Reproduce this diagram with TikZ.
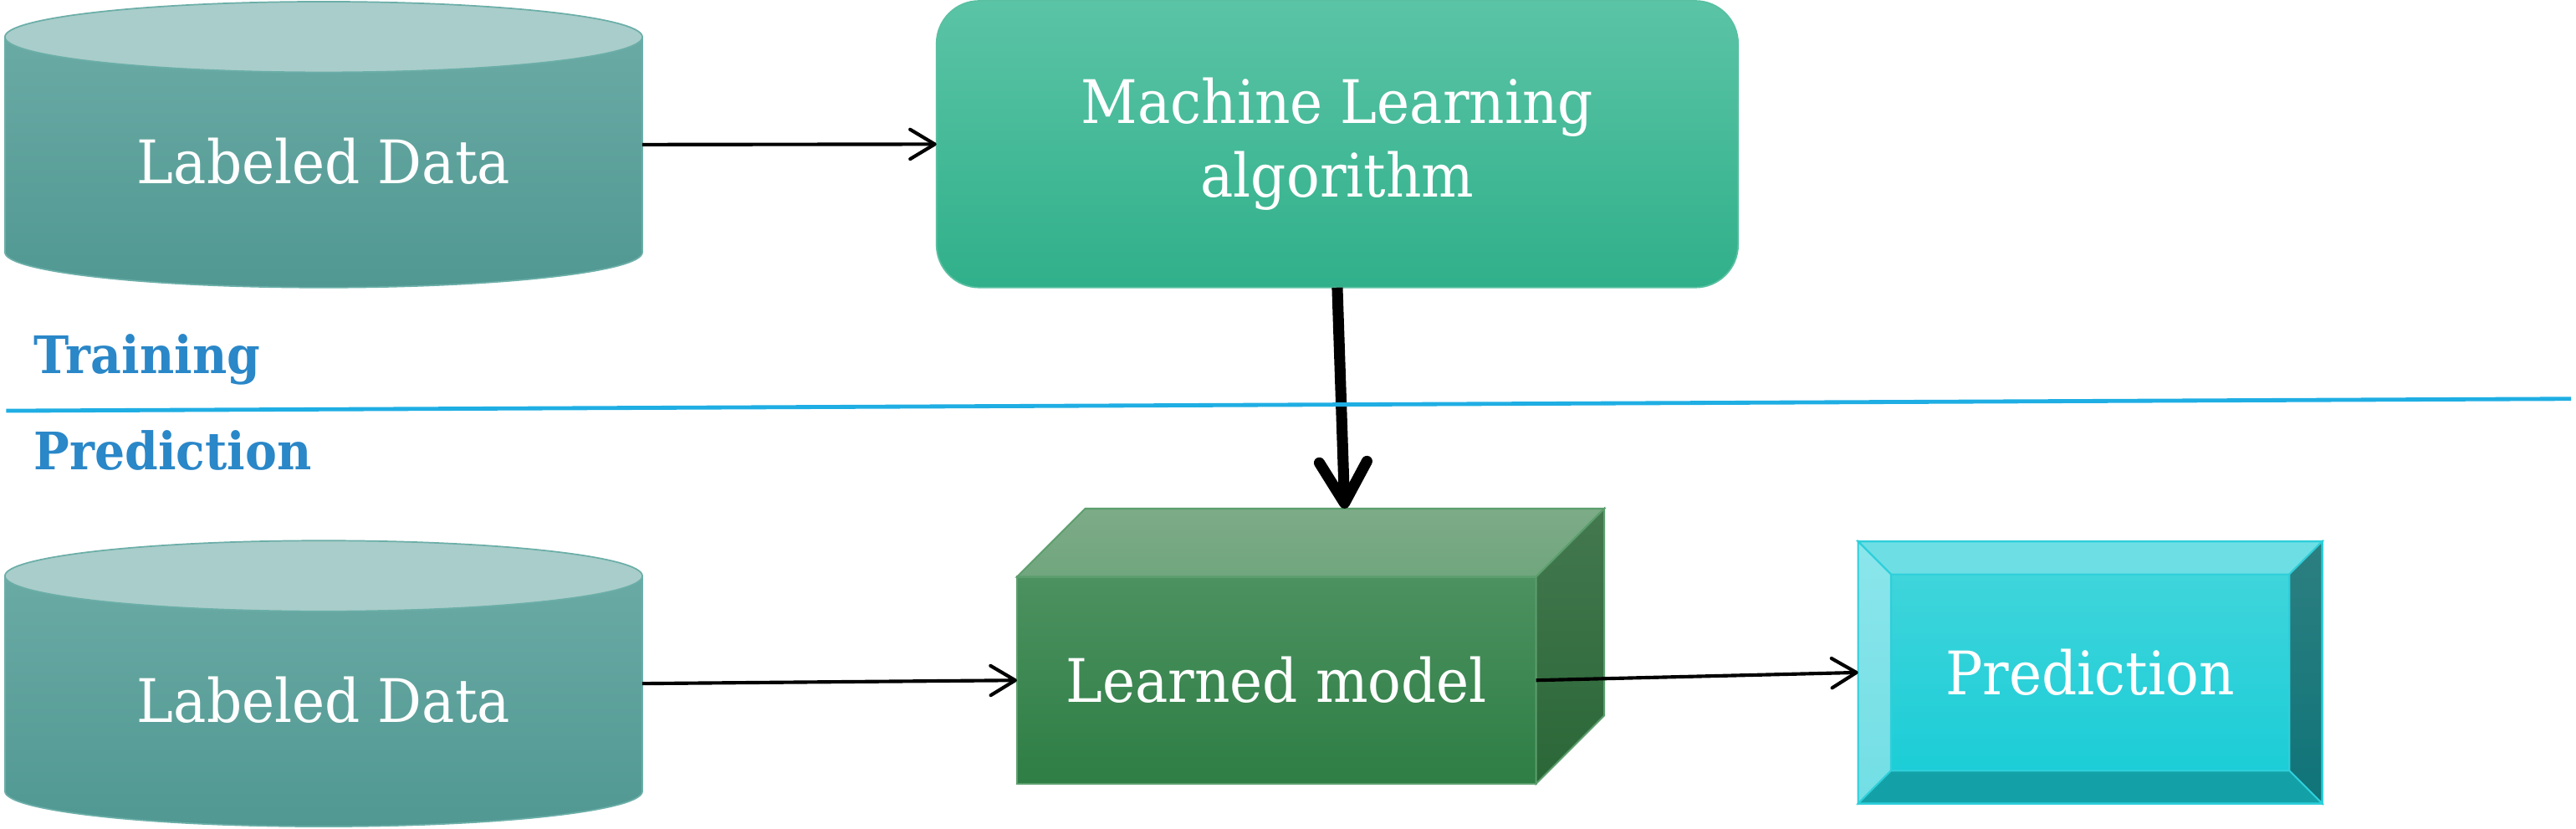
\documentclass[tikz,border=0pt]{standalone}
\usepackage{fontspec}
\setmainfont{DejaVu Serif}[FakeStretch=0.92]
\usepackage{tikz}
\usepackage{xcolor}
\usetikzlibrary{arrows.meta}

\definecolor{cylside}{HTML}{6AAAA5}
\definecolor{cylsidedark}{HTML}{519892}
\definecolor{cyltopc}{HTML}{A9CDCA}
\definecolor{cylline}{HTML}{6BAEA8}
\definecolor{mltop}{HTML}{5BC4A6}
\definecolor{mlbot}{HTML}{30B08A}
\definecolor{cubefronttop}{HTML}{4C9160}
\definecolor{cubefrontbot}{HTML}{2E7E45}
\definecolor{cubetoptop}{HTML}{7DAB88}
\definecolor{cubetopbot}{HTML}{70A67D}
\definecolor{cubesidetop}{HTML}{44784F}
\definecolor{cubesidebot}{HTML}{2A6737}
\definecolor{cubeline}{HTML}{5C9E6D}
\definecolor{predin}{HTML}{45D6DC}
\definecolor{predinbot}{HTML}{16CCD6}
\definecolor{predtopc}{HTML}{6EDEE5}
\definecolor{predlefttop}{HTML}{8BE6EB}
\definecolor{predleftbot}{HTML}{72DEE5}
\definecolor{predrighttop}{HTML}{2D7F80}
\definecolor{predrightbot}{HTML}{0F7479}
\definecolor{predbotc}{HTML}{13A1A7}
\definecolor{predline}{HTML}{2ECFDA}
\definecolor{sepblue}{HTML}{1FAEE3}
\definecolor{phaseblue}{HTML}{2A87C8}

\begin{document}
\begin{tikzpicture}[x=0.02cm, y=-0.02cm,
    boxtext/.style={text=white, font=\fontsize{20.8pt}{25.6pt}\selectfont, align=center},
    cylarea/.style={minimum width=7.76cm, minimum height=3.5cm, inner sep=0pt, outer sep=0pt},
    cylbody/.style={top color=cylside, bottom color=cylsidedark, draw=cylline, line width=0.5pt},
    cyltop/.style={fill=cyltopc, draw=cylline, line width=0.5pt},
    mlbox/.style={boxtext, top color=mltop, bottom color=mlbot, draw=mlbot!80!white, line width=0.5pt,
        rounded corners=0.52cm, minimum width=9.76cm, minimum height=3.49cm, outer sep=0pt},
    cubefront/.style={boxtext, top color=cubefronttop, bottom color=cubefrontbot, draw=cubeline, line width=0.6pt,
        minimum width=6.32cm, minimum height=2.52cm, outer sep=0pt},
    cubeface/.style={draw=cubeline, line width=0.6pt},
    predbox/.style={boxtext, top color=predin, bottom color=predinbot, draw=predline, line width=0.6pt,
        minimum width=5.65cm, minimum height=3.19cm, outer sep=0pt},
    bevelface/.style={draw=predline, line width=0.6pt},
    flow/.style={-{Straight Barb[length=0.3cm, width=0.36cm, round]}, line width=1.2pt},
    bigflow/.style={-{Straight Barb[length=0.5cm, width=0.58cm, round]}, line width=3.8pt},
    phase/.style={text=phaseblue, font=\bfseries\fontsize{17.9pt}{21pt}\selectfont, anchor=base west, inner sep=0pt},
    sepline/.style={draw=sepblue, line width=1.4pt}]
    % Define sizes
    \def\depth{41.5}
    \def\bevel{20}

    \useasboundingbox (0,0) rectangle (1568,504);

    % Data stores
    \foreach \name/\cy in {data1/88, data2/416} {
        \shade[cylbody] (3,\cy-65.5) -- (3,\cy+65.5) arc[start angle=180, end angle=0, x radius=194, y radius=21.5] -- (391,\cy-65.5) -- cycle;
        \filldraw[cyltop] (197,\cy-65.5) ellipse[x radius=194, y radius=21.5];
        \node[cylarea] (\name) at (197,\cy) {};
        \node[boxtext] (\name text) at ([yshift=-0.2cm]\name.center) {Labeled Data};
    }

    % Training step
    \node[mlbox] (ml) at (814,87.75) {Machine Learning\\algorithm};

    % Learned model as a box
    \node[cubefront] (model) at (777,414) {Learned model};
    \shade[cubeface, top color=cubetoptop, bottom color=cubetopbot] (model.north west) -- ++(\depth,-\depth)
        -- ([shift={(\depth,-\depth)}]model.north east) -- (model.north east) -- cycle;
    \shade[cubeface, top color=cubesidetop, bottom color=cubesidebot] (model.north east) -- ++(\depth,-\depth)
        -- ([shift={(\depth,-\depth)}]model.south east) -- (model.south east) -- cycle;
    \coordinate (modeltop) at ([shift={(\depth,-\depth)}]model.north);

    % Prediction with bevel
    \node[predbox] (pred) at (1272.25,409.25) {Prediction};
    \coordinate (pNW) at ([shift={(\bevel,\bevel)}]pred.north west);
    \coordinate (pNE) at ([shift={(-\bevel,\bevel)}]pred.north east);
    \coordinate (pSW) at ([shift={(\bevel,-\bevel)}]pred.south west);
    \coordinate (pSE) at ([shift={(-\bevel,-\bevel)}]pred.south east);
    \filldraw[bevelface, fill=predtopc] (pred.north west) -- (pNW) -- (pNE) -- (pred.north east) -- cycle;
    \shade[bevelface, top color=predlefttop, bottom color=predleftbot] (pred.north west) -- (pNW) -- (pSW) -- (pred.south west) -- cycle;
    \shade[bevelface, top color=predrighttop, bottom color=predrightbot] (pred.north east) -- (pNE) -- (pSE) -- (pred.south east) -- cycle;
    \filldraw[bevelface, fill=predbotc] (pred.south west) -- (pSW) -- (pSE) -- (pred.south east) -- cycle;

    % Connectors
    \draw[flow] (data1.east) -- (ml.west);
    \draw[bigflow] (ml.south) -- (modeltop);
    \draw[flow] (data2.east) -- (model.west);
    \draw[flow] (model.east) -- (pred.west);

    % Phases
    \draw[sepline] (3.7,250) -- (1565,242.7);
    \node[phase] (training) at (20.4,227.4) {Training};
    \node[phase] (prediction) at (20.4,286) {Prediction};
\end{tikzpicture}
\end{document}
